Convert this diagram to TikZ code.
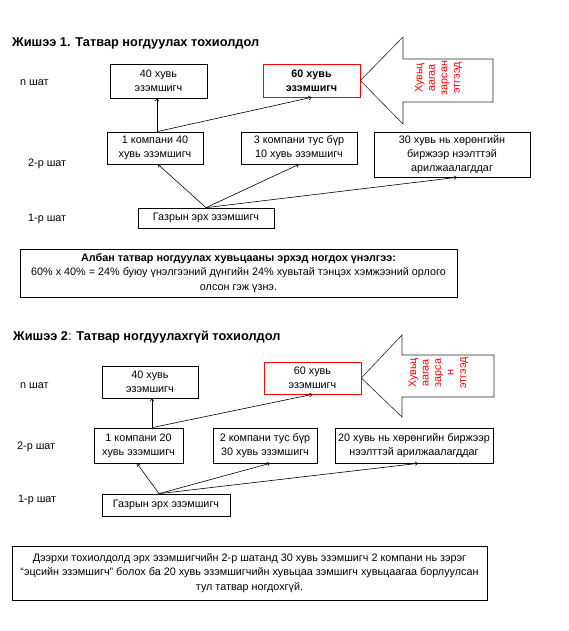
\documentclass[tikz,border=0pt]{standalone}
\usepackage{fontspec}
\setmainfont{Liberation Sans}
\usetikzlibrary{positioning, arrows.meta}

\tikzset{
  box/.style={draw=black, line width=0.7pt, inner sep=0pt, align=center, font=\fontsize{10.8}{14}\selectfont},
  redbox/.style={box, draw=red},
  arr/.style={-{To[length=3pt,width=4pt]}, line width=0.6pt},
  stage/.style={anchor=west, inner sep=0pt, font=\fontsize{10.8}{12}\selectfont},
  ttl/.style={anchor=west, inner sep=0pt, font=\fontsize{12.8}{14}\selectfont\bfseries},
  sidetxt/.style={rotate=90, text=red, align=center, inner sep=0pt, font=\fontsize{10.8}{12.5}\selectfont},
  bigarrow/.style={draw=black!85, line width=0.6pt},
  notebox/.style={box, font=\fontsize{10.8}{14.5}\selectfont}
}

\begin{document}
\begin{tikzpicture}[x=1pt, y=-1pt]
    \useasboundingbox (0,0) rectangle (569,631);

    % ===== Example 1 =====
    \node[ttl] (title1) at (12,43) {Жишээ 1. Татвар ногдуулах тохиолдол};

    % stage labels
    \node[stage] (nst1) at (20,83) {n шат};
    \node[stage] (st2a) at (28,164) {2-р шат};
    \node[stage] (st1a) at (28,219) {1-р шат};

    % boxes
    \node[box, minimum width=97pt, minimum height=34pt] (h40a) at (158.5,81) {40 хувь\\эзэмшигч};
    \node[redbox, minimum width=97pt, minimum height=33pt, font=\fontsize{10.8}{14}\selectfont\bfseries] (r60a) at (311.5,80.5) {60 хувь\\эзэмшигч};
    \node[box, minimum width=96pt, minimum height=32pt] (c1a) at (155,148) {1 компани 40\\хувь эзэмшигч};
    \node[box, minimum width=116pt, minimum height=32pt] (c3a) at (299,148) {3 компани тус бүр\\10 хувь эзэмшигч};
    \node[box, minimum width=156pt, minimum height=45pt] (c30a) at (452,154.5) {30 хувь нь хөрөнгийн\\биржээр нээлттэй\\арилжаалагддаг};
    \node[box, minimum width=136pt, minimum height=20pt] (land1) at (206,218) {Газрын эрх эзэмшигч};

    % big arrow
    \draw[bigarrow] (r60a.east) -- (403,37) -- (403,59) -- (493,59) -- (493,102) -- (403,102) -- (403,124) -- cycle;
    \node[sidetxt] (sold1) at (438.5,78) {Хувьц\\аагаа\\зарсан\\этгээд};

    % connectors
    \draw[arr] (land1.north) -- ([xshift=3pt]c1a.south);
    \draw[arr] (land1.north) -- (c3a.south);
    \draw[arr] (land1.north) -- ([xshift=5pt]c30a.south);
    \coordinate (up1) at ([xshift=-1.5pt]h40a.south |- c1a.north);
    \draw[arr] (up1) -- (up1 |- h40a.south);
    \draw[arr] (up1) -- (r60a.south);

    % note
    \node[notebox, minimum width=437pt, minimum height=48pt] (note1) at (238.5,273) {\textbf{Албан татвар ногдуулах хувьцааны эрхэд ногдох үнэлгээ:}\\60\% х 40\% = 24\% буюу үнэлгээний дүнгийн 24\% хувьтай тэнцэх хэмжээний орлого\\олсон гэж үзнэ.};

    % ===== Example 2 =====
    \node[ttl] (title2) at (13,337) {Жишээ 2\textmd{:} Татвар ногдуулахгүй тохиолдол};

    \node[stage] (nst2) at (20,386) {n шат};
    \node[stage] (st2b) at (17,447) {2-р шат};
    \node[stage] (st1b) at (18,500) {1-р шат};

    \node[box, minimum width=96pt, minimum height=32pt] (h40b) at (150,382) {40 хувь\\эзэмшигч};
    \node[redbox, minimum width=97pt, minimum height=32pt] (r60b) at (312.5,378) {60 хувь\\эзэмшигч};
    \node[box, minimum width=89pt, minimum height=35pt] (c1b) at (138.5,445.5) {1 компани 20\\хувь эзэмшигч};
    \node[box, minimum width=104pt, minimum height=35pt] (c2b) at (265,445.5) {2 компани тус бүр\\30 хувь эзэмшигч};
    \node[box, minimum width=158pt, minimum height=35pt] (c20b) at (414,445.5) {20 хувь нь хөрөнгийн биржээр\\нээлттэй арилжаалагддаг};
    \node[box, minimum width=128pt, minimum height=22pt] (land2) at (166,505) {Газрын эрх эзэмшигч};

    \draw[bigarrow] (r60b.east) -- (402,335) -- (402,355) -- (494,355) -- (494,397) -- (402,397) -- (402,417) -- cycle;
    \node[sidetxt] (sold2) at (438.5,373) {Хувьц\\аагаа\\зарса\\н\\этгээд};

    \coordinate (root2) at ([xshift=-7pt]land2.north);
    \draw[arr] (root2) -- ([xshift=-1.5pt]c1b.south);
    \draw[arr] (root2) -- ([xshift=5pt]c2b.south);
    \draw[arr] (root2) -- ([xshift=4pt]c20b.south);
    \coordinate (up2) at ([xshift=2pt]h40b.south |- c1b.north);
    \draw[arr] (up2) -- (up2 |- h40b.south);
    \draw[arr] (up2) -- (r60b.south);

    \node[notebox, minimum width=475pt, minimum height=54pt] (note2) at (249.5,573) {Дээрхи тохиолдолд эрх эзэмшигчийн 2-р шатанд 30 хувь эзэмшигч 2 компани нь зэрэг\\“эцсийн эзэмшигч” болох ба 20 хувь эзэмшигчийн хувьцаа зэмшигч хувьцаагаа борлуулсан\\тул татвар ногдохгүй.};

\end{tikzpicture}
\end{document}
